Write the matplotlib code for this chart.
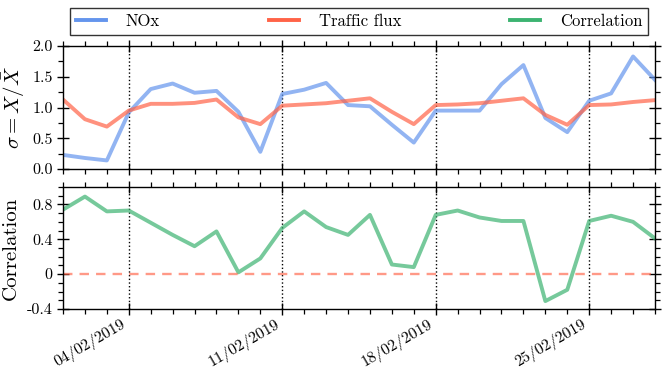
import matplotlib
matplotlib.use("Agg")
import matplotlib.pyplot as plt
import matplotlib.dates as mdates
from matplotlib.lines import Line2D
from matplotlib.ticker import MultipleLocator, FixedLocator
import pandas as pd

plt.rcParams['font.family'] = ['cmr10', 'DejaVu Serif']
plt.rcParams['mathtext.fontset'] = 'cm'
plt.rcParams['axes.unicode_minus'] = False
plt.rcParams['axes.formatter.use_mathtext'] = True

dates = pd.date_range('2019-02-01', periods=28, freq='D')

nox = [0.23, 0.18, 0.14, 0.92, 1.30, 1.39, 1.24, 1.27, 0.93, 0.28,
       1.22, 1.29, 1.40, 1.04, 1.02, 0.72, 0.43, 0.95, 0.95, 0.95,
       1.38, 1.69, 0.83, 0.60, 1.11, 1.23, 1.83, 1.45]
traffic = [1.13, 0.81, 0.69, 0.95, 1.06, 1.06, 1.075, 1.13, 0.84, 0.73,
           1.03, 1.05, 1.07, 1.11, 1.15, 0.93, 0.73, 1.04, 1.05, 1.07,
           1.11, 1.15, 0.88, 0.72, 1.04, 1.05, 1.09, 1.12]
corr = [0.74, 0.89, 0.72, 0.73, 0.59, 0.45, 0.32, 0.49, 0.02, 0.18,
        0.53, 0.72, 0.54, 0.45, 0.68, 0.11, 0.08, 0.68, 0.73, 0.65,
        0.61, 0.61, -0.31, -0.18, 0.61, 0.67, 0.60, 0.41]

series_labels = ['NOx', 'Traffic flux', 'Correlation']
c_nox = '#6495ED'
c_traf = '#FF6347'
c_corr = '#3CB371'

fig = plt.figure(figsize=(6.64, 3.74), dpi=100)
ax1 = fig.add_axes([0.0949, 0.548, 0.8915, 0.329])
ax2 = fig.add_axes([0.0949, 0.174, 0.8915, 0.326])

ax1.plot(dates, nox, color=c_nox, lw=2.8, alpha=0.7)
ax1.plot(dates, traffic, color=c_traf, lw=2.8, alpha=0.7)
ax2.plot(dates, corr, color=c_corr, lw=2.8, alpha=0.7)
ax2.axhline(0, color=c_traf, lw=1.7, ls=(0, (4, 3)), alpha=0.65)

for ax in (ax1, ax2):
    ax.set_xlim(dates[0], dates[-1])
    ax.xaxis.set_major_locator(mdates.WeekdayLocator(byweekday=mdates.MO))
    ax.xaxis.set_minor_locator(mdates.DayLocator())
    ax.xaxis.set_major_formatter(mdates.DateFormatter('%d/%m/%Y'))
    ax.grid(True, axis='x', which='major', color='black', ls=':', lw=1.0)
    ax.tick_params(which='both', top=True, right=True, labelsize=11.5)
    ax.tick_params(which='major', direction='inout', length=8, width=1)
    ax.tick_params(which='minor', direction='out', length=3.5, width=0.9)
    for sp in ax.spines.values():
        sp.set_linewidth(1.0)

ax1.set_ylim(0, 2.0)
ax1.yaxis.set_major_locator(MultipleLocator(0.5))
ax1.yaxis.set_minor_locator(MultipleLocator(0.25))
ax1.yaxis.set_major_formatter(matplotlib.ticker.FormatStrFormatter('%.1f'))
ax1.tick_params(axis='x', labelbottom=False)
ax1.set_ylabel(r'$\sigma = X/\bar{X}$', fontsize=15, labelpad=4)

ax2.set_ylim(-0.4, 1.0)
ax2.yaxis.set_major_locator(FixedLocator([-0.4, 0, 0.4, 0.8]))
ax2.yaxis.set_minor_locator(MultipleLocator(0.1))
ax2.set_yticklabels(['-0.4', '0', '0.4', '0.8'])
ax2.set_ylabel('Correlation', fontsize=15, labelpad=5)
for lab in ax2.get_xticklabels():
    lab.set_rotation(30)
    lab.set_ha('right')
    lab.set_fontsize(11.5)
ax2.tick_params(axis='x', which='major', pad=2)

handles = [Line2D([], [], color=c, lw=2.8) for c in (c_nox, c_traf, c_corr)]
leg = fig.legend(handles, series_labels, ncol=3, mode='expand',
                 bbox_to_anchor=(0.105, 0.906, 0.871, 0.086), loc='lower left',
                 fontsize=12, frameon=True, fancybox=False, borderaxespad=0,
                 handlelength=1.8, handletextpad=1.2, borderpad=0.35)
leg.get_frame().set_edgecolor('black')
leg.get_frame().set_linewidth(1.0)

fig.savefig('out.png', dpi=100)
